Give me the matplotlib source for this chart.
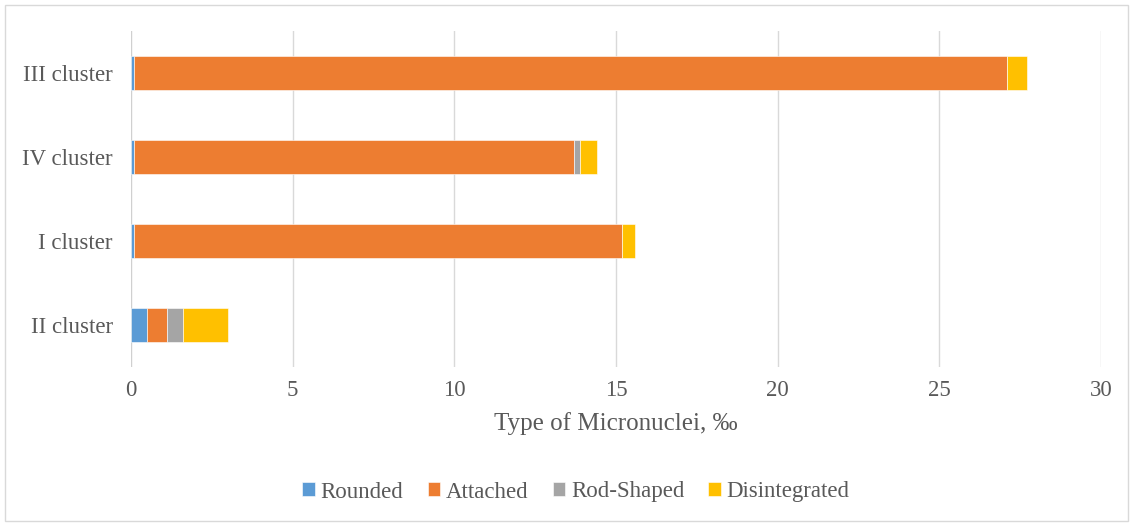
import numpy as np
import matplotlib.pyplot as plt
from matplotlib.patches import Rectangle

clusters = ['II cluster', 'I cluster', 'IV cluster', 'III cluster']
rounded = [0.5, 0.1, 0.1, 0.1]
attached = [0.6, 15.1, 13.6, 27.0]
rod_shaped = [0.5, 0.0, 0.2, 0.0]
disintegrated = [1.4, 0.4, 0.5, 0.6]

series = [
    ('Rounded', rounded, '#5B9BD5'),
    ('Attached', attached, '#ED7D31'),
    ('Rod-Shaped', rod_shaped, '#A5A5A5'),
    ('Disintegrated', disintegrated, '#FFC000'),
]

TEXT = '#595959'
plt.rcParams['font.family'] = ['Liberation Serif', 'DejaVu Serif']

fig = plt.figure(figsize=(11.33, 5.25), dpi=100)
ax = fig.add_axes([131/1133, 1 - 367/525, (1101 - 131)/1133, (367 - 31)/525])

y = np.arange(len(clusters))
left = np.zeros(len(clusters))
for name, vals, color in series:
    ax.barh(y, vals, left=left, height=0.4, color=color, label=name,
            edgecolor='white', linewidth=0.4, zorder=3)
    left += np.array(vals)

ax.set_xlim(0, 30)
ax.set_ylim(-0.5, 3.5)
ax.set_xticks(range(0, 31, 5))
ax.set_yticks(y)
ax.set_yticklabels(clusters)
ax.tick_params(length=0, colors=TEXT, labelsize=16.5)
ax.tick_params(axis='x', pad=9)
ax.tick_params(axis='y', pad=13)
ax.grid(axis='x', color='#D9D9D9', linewidth=1, zorder=0)
for s in ax.spines.values():
    s.set_visible(False)
ax.axvline(0, color='#D0D0D0', linewidth=1.5, zorder=2)

ax.set_xlabel('Type of Micronuclei, ‰', fontsize=18, color=TEXT, labelpad=8)

fig.legend(loc='center', bbox_to_anchor=(576/1133, 1 - 492/525), ncol=4,
           frameon=False, fontsize=16.5, labelcolor=TEXT, handlelength=0.55,
           handleheight=0.55, handletextpad=0.25, columnspacing=1.05)

fig.patches.append(Rectangle((5/1133, 4/525), 1 - 10/1133, 1 - 9/525,
                             transform=fig.transFigure, fill=False,
                             edgecolor='#D9D9D9', linewidth=1))

fig.savefig('out.png', dpi=100)
